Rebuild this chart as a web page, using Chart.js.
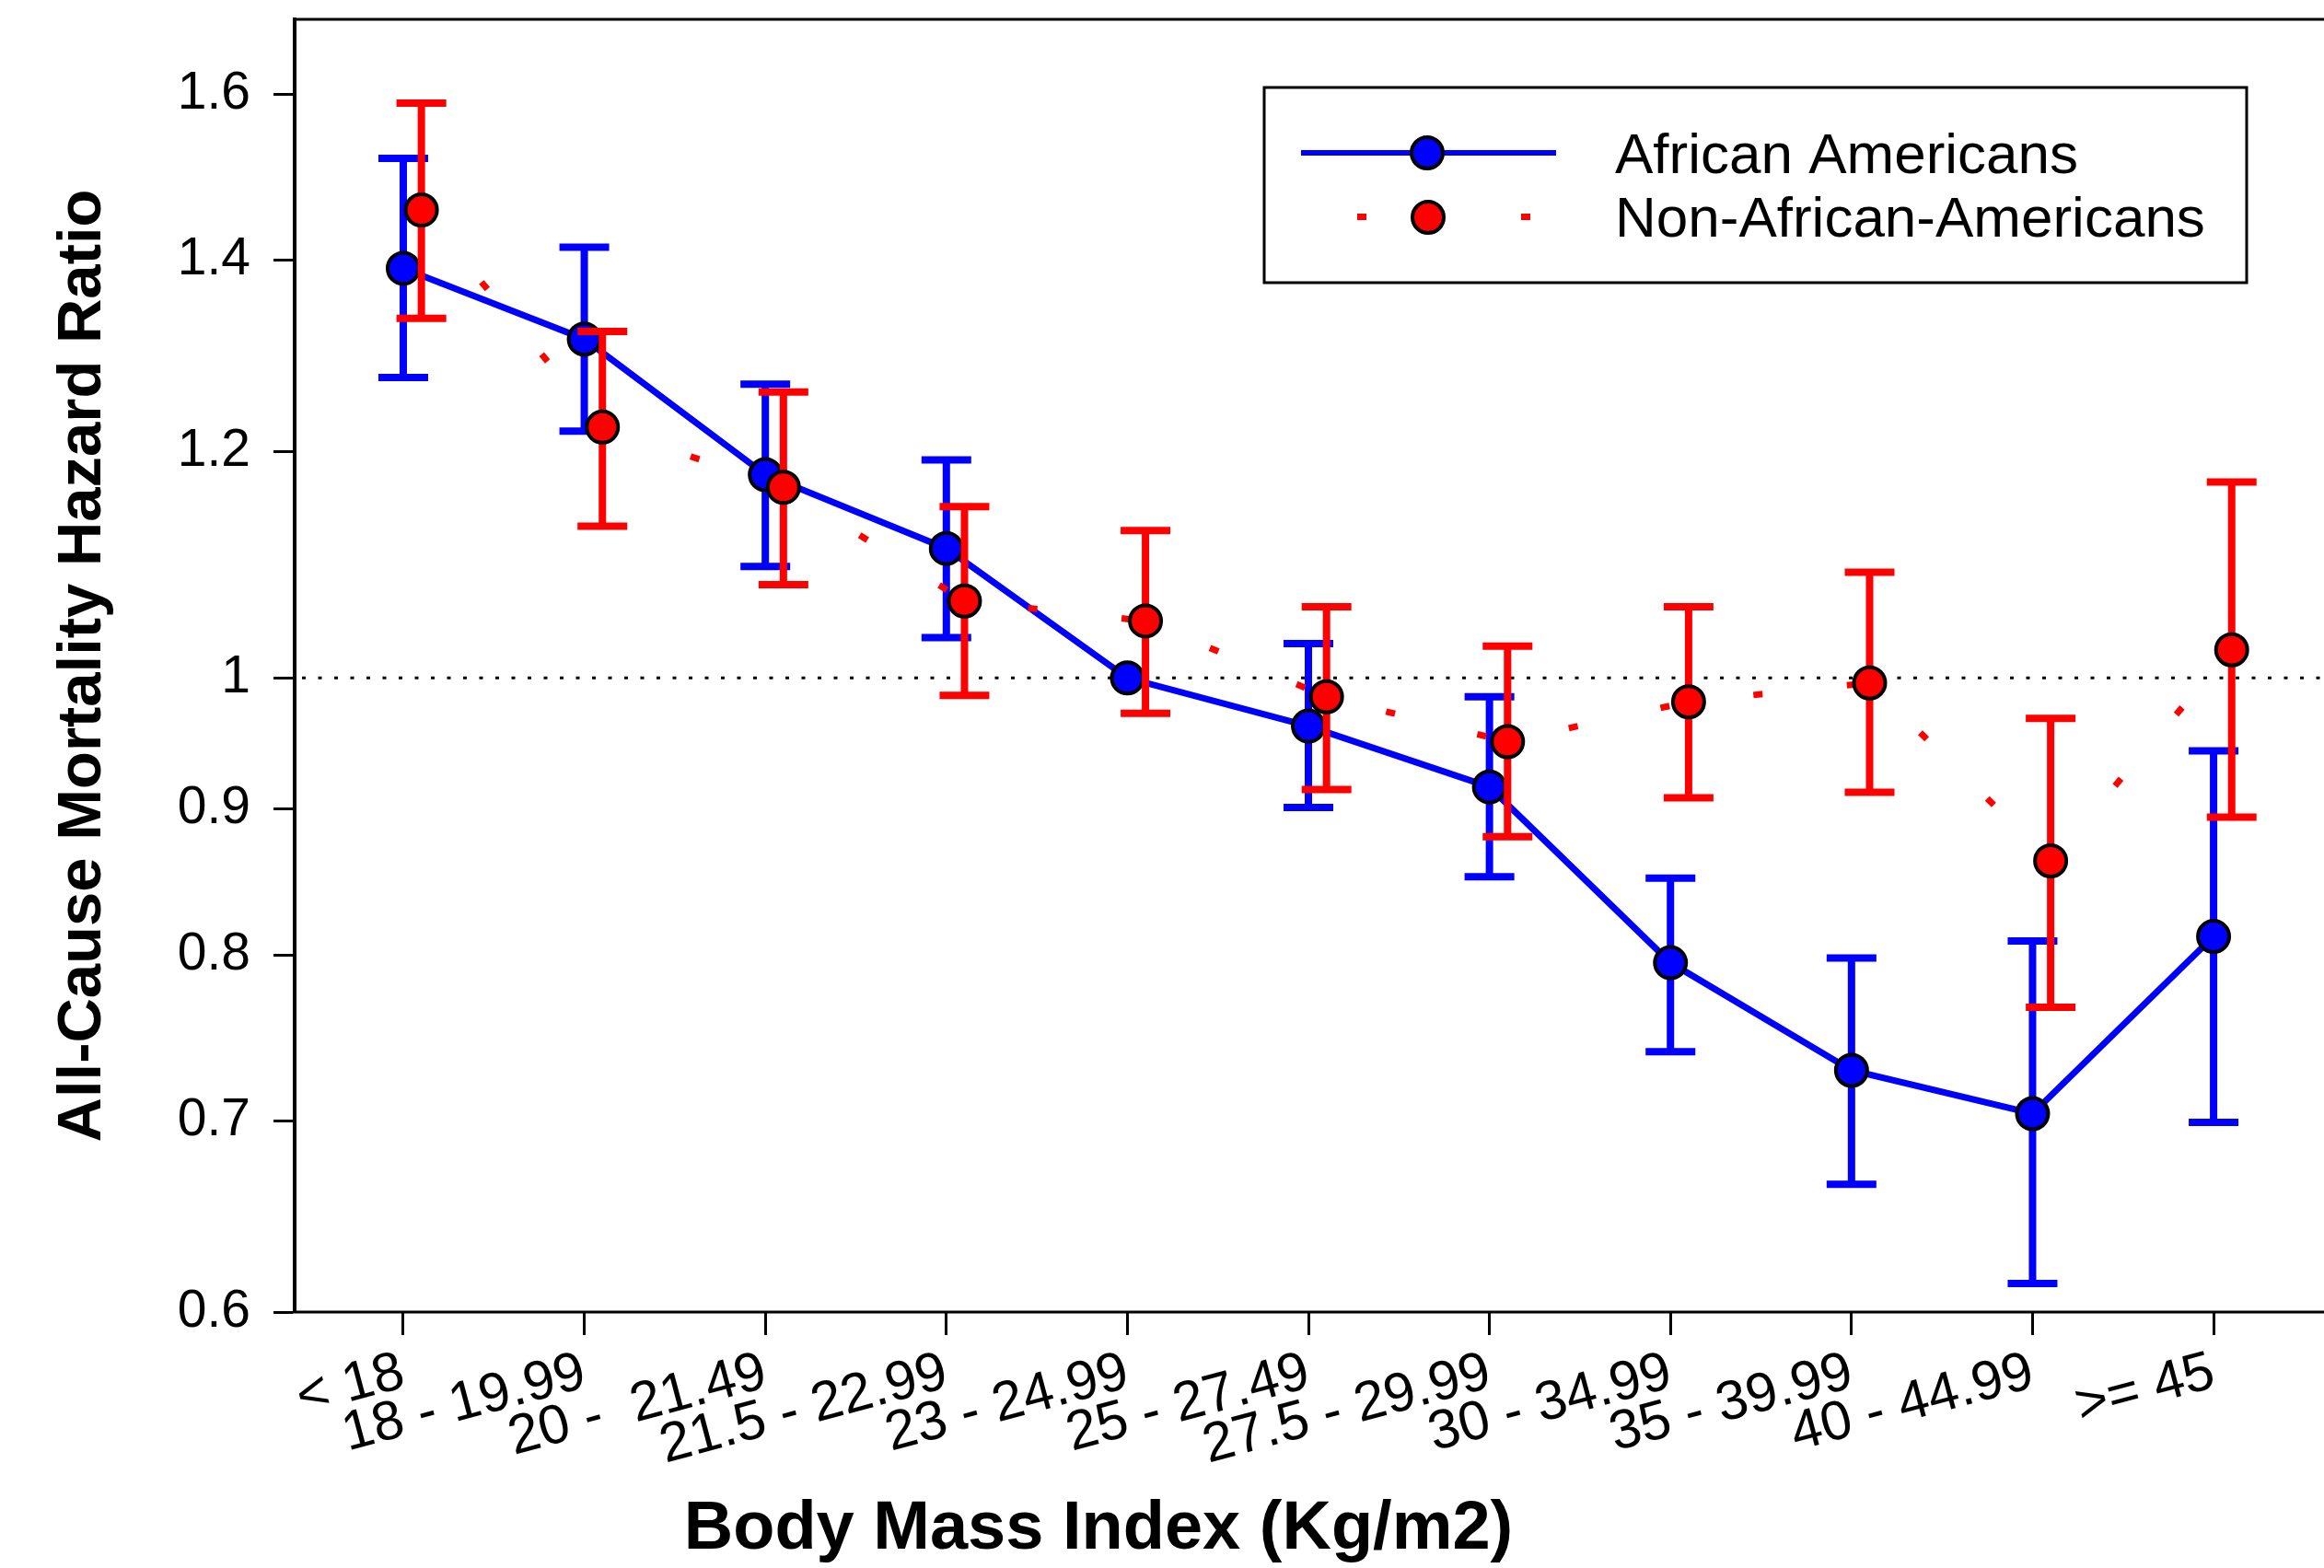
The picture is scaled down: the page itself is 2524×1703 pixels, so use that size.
<!DOCTYPE html>
<html>
<head>
<meta charset="utf-8">
<script src="https://cdn.jsdelivr.net/npm/chart.js@4.4.1/dist/chart.umd.min.js"></script>
<style>
  html, body { margin: 0; padding: 0; background: #fff; overflow: hidden; }
  #wrap { width: 2524px; height: 1703px; }
</style>
</head>
<body>
<div id="wrap"><canvas id="bmiChart" width="2524" height="1703"></canvas></div>
<script>
// BMI categories (x axis)
const bmiGroups = ['< 18', '18 - 19.99', '20 -  21.49', '21.5 - 22.99', '23 - 24.99', '25 - 27.49',
                   '27.5 - 29.99', '30 - 34.99', '35 - 39.99', '40 - 44.99', '>= 45'];
const yTicks = [0.6, 0.7, 0.8, 0.9, 1, 1.2, 1.4, 1.6];

// African Americans: hazard ratio and 95% CI (23 - 24.99 is the reference group)
const aaHR   = [1.391, 1.314, 1.178, 1.110, 1.000, 0.962, 0.916, 0.795, 0.729, 0.704, 0.812];
const aaLow  = [1.274, 1.220, 1.094, 1.033, null,  0.901, 0.852, 0.740, 0.665, 0.614, 0.699];
const aaHigh = [1.520, 1.415, 1.267, 1.192, null,  1.028, 0.985, 0.851, 0.798, 0.809, 0.943];

// Non-African-Americans
const naaHR   = [1.458, 1.224, 1.166, 1.064, 1.047, 0.985, 0.950, 0.981, 0.996, 0.863, 1.023];
const naaLow  = [1.336, 1.130, 1.078, 0.986, 0.972, 0.914, 0.880, 0.908, 0.912, 0.767, 0.894];
const naaHigh = [1.589, 1.322, 1.259, 1.148, 1.126, 1.059, 1.026, 1.059, 1.089, 0.968, 1.171];

const naaShift = 0.1; // red series is drawn a little to the right of each category

const BLUE = '#0000ff';
const RED = '#ff0000';
const FONT = 'Liberation Sans';
const xTitle = 'Body Mass Index (Kg/m2)';

// error bars, drawn just before each dataset so markers sit on top
const errorBars = {
    id: 'errorBars',
    beforeDatasetDraw(chart, args) {
        const ds = chart.data.datasets[args.index];
        if (!ds.errLow) return;
        const {ctx, scales: {x, y}} = chart;
        ctx.save();
        ctx.strokeStyle = ds.errColor;
        ctx.lineWidth = 8;
        ctx.lineCap = 'butt';
        ds.data.forEach((p, i) => {
            if (ds.errLow[i] == null) return;
            const px = x.getPixelForValue(p.x);
            const lo = y.getPixelForValue(ds.errLow[i]);
            const hi = y.getPixelForValue(ds.errHigh[i]);
            ctx.beginPath();
            ctx.moveTo(px, lo); ctx.lineTo(px, hi);
            ctx.moveTo(px - 27, lo); ctx.lineTo(px + 27, lo);
            ctx.moveTo(px - 27, hi); ctx.lineTo(px + 27, hi);
            ctx.stroke();
        });
        ctx.restore();
    }
};

// reference line at HR = 1, top frame line and bottom axis running off the right edge
const frame = {
    id: 'frame',
    beforeDatasetsDraw(chart) {
        const {ctx, chartArea: a, scales: {y}} = chart;
        ctx.save();
        ctx.strokeStyle = '#000';
        ctx.lineWidth = 3;
        ctx.setLineDash([4, 13.5]);
        const y1 = y.getPixelForValue(1);
        ctx.beginPath();
        ctx.moveTo(a.left + 8, y1); ctx.lineTo(chart.width, y1);
        ctx.stroke();
        ctx.setLineDash([]);
        ctx.beginPath();
        ctx.moveTo(a.left - 2, a.top); ctx.lineTo(chart.width, a.top);
        ctx.moveTo(a.left - 2, a.bottom); ctx.lineTo(chart.width, a.bottom);
        ctx.stroke();
        ctx.restore();
    },
    afterDraw(chart) {
        // x axis title sits left of the plot centre in the original
        const {ctx} = chart;
        ctx.save();
        ctx.fillStyle = '#000';
        ctx.font = 'bold 74px "' + FONT + '"';
        ctx.textAlign = 'center';
        ctx.textBaseline = 'middle';
        ctx.fillText(xTitle, 1193, 1662);
        ctx.restore();
    }
};

// legend box in the upper right
const legendBox = {
    id: 'legendBox',
    afterDraw(chart) {
        const {ctx} = chart;
        ctx.save();
        ctx.strokeStyle = '#000';
        ctx.lineWidth = 3;
        ctx.strokeRect(1373, 95, 1067, 212);

        // African Americans
        ctx.strokeStyle = BLUE;
        ctx.lineWidth = 6;
        ctx.beginPath();
        ctx.moveTo(1413, 166); ctx.lineTo(1690, 166);
        ctx.stroke();
        drawMarker(ctx, 1550, 166, BLUE);

        // Non-African-Americans
        ctx.fillStyle = RED;
        ctx.fillRect(1474, 232, 10, 7);
        ctx.fillRect(1652, 232, 10, 7);
        drawMarker(ctx, 1551, 236, RED);

        ctx.fillStyle = '#000';
        ctx.font = '62px "' + FONT + '"';
        ctx.textBaseline = 'alphabetic';
        ctx.fillText('African Americans', 1754, 188);
        ctx.fillText('Non-African-Americans', 1754, 257);
        ctx.restore();
    }
};

function drawMarker(ctx, x, y, color) {
    ctx.beginPath();
    ctx.arc(x, y, 17, 0, Math.PI * 2);
    ctx.fillStyle = color;
    ctx.fill();
    ctx.lineWidth = 4;
    ctx.strokeStyle = '#000';
    ctx.stroke();
}

const ctx = document.getElementById('bmiChart').getContext('2d');

new Chart(ctx, {
    type: 'line',
    data: {
        datasets: [
            {
                label: 'African Americans',
                data: aaHR.map((v, i) => ({x: i, y: v})),
                errLow: aaLow, errHigh: aaHigh, errColor: BLUE,
                borderColor: BLUE,
                borderWidth: 7,
                pointRadius: 17,
                pointBorderWidth: 4,
                pointBorderColor: '#000',
                pointBackgroundColor: BLUE,
                order: 2
            },
            {
                label: 'Non-African-Americans',
                data: naaHR.map((v, i) => ({x: i + naaShift, y: v})),
                errLow: naaLow, errHigh: naaHigh, errColor: RED,
                borderColor: RED,
                borderWidth: 7,
                borderDash: [10, 92],
                borderCapStyle: 'butt',
                pointRadius: 17,
                pointBorderWidth: 4,
                pointBorderColor: '#000',
                pointBackgroundColor: RED,
                order: 1
            }
        ]
    },
    options: {
        responsive: false,
        devicePixelRatio: 1,
        animation: false,
        events: [],
        layout: { autoPadding: false, padding: { top: 21, left: 0, right: 0, bottom: 0 } },
        plugins: {
            legend: { display: false },
            tooltip: { enabled: false }
        },
        scales: {
            x: {
                type: 'linear',
                min: -0.6,
                max: 10.61,
                afterBuildTicks: s => { s.ticks = bmiGroups.map((_, i) => ({value: i})); },
                afterFit: s => { s.height = 278; s.paddingLeft = 0; s.paddingRight = 0; },
                grid: { drawOnChartArea: false, drawTicks: true, tickLength: 25, tickColor: '#000', tickWidth: 3 },
                border: { display: false },
                ticks: {
                    autoSkip: false,
                    minRotation: 15,
                    maxRotation: 15,
                    padding: 5,
                    color: '#000',
                    font: { family: FONT, size: 60 },
                    callback: v => bmiGroups[v]
                }
            },
            y: {
                type: 'logarithmic',
                min: 0.6,
                max: 1.7,
                afterBuildTicks: s => { s.ticks = yTicks.map(v => ({value: v})); },
                afterFit: s => { s.width = 320; s.paddingTop = 0; s.paddingBottom = 0; },
                grid: { drawOnChartArea: false, drawTicks: true, tickLength: 23, tickColor: '#000', tickWidth: 3 },
                border: { display: true, color: '#000', width: 4 },
                ticks: {
                    padding: 25,
                    color: '#000',
                    font: { family: FONT, size: 57 },
                    callback: v => String(v)
                },
                title: {
                    display: true,
                    text: 'All-Cause Mortality Hazard Ratio',
                    color: '#000',
                    font: { family: FONT, size: 67, weight: 'bold' },
                    padding: { top: 50, bottom: 0 }
                }
            }
        }
    },
    plugins: [errorBars, frame, legendBox]
});
</script>
</body>
</html>
